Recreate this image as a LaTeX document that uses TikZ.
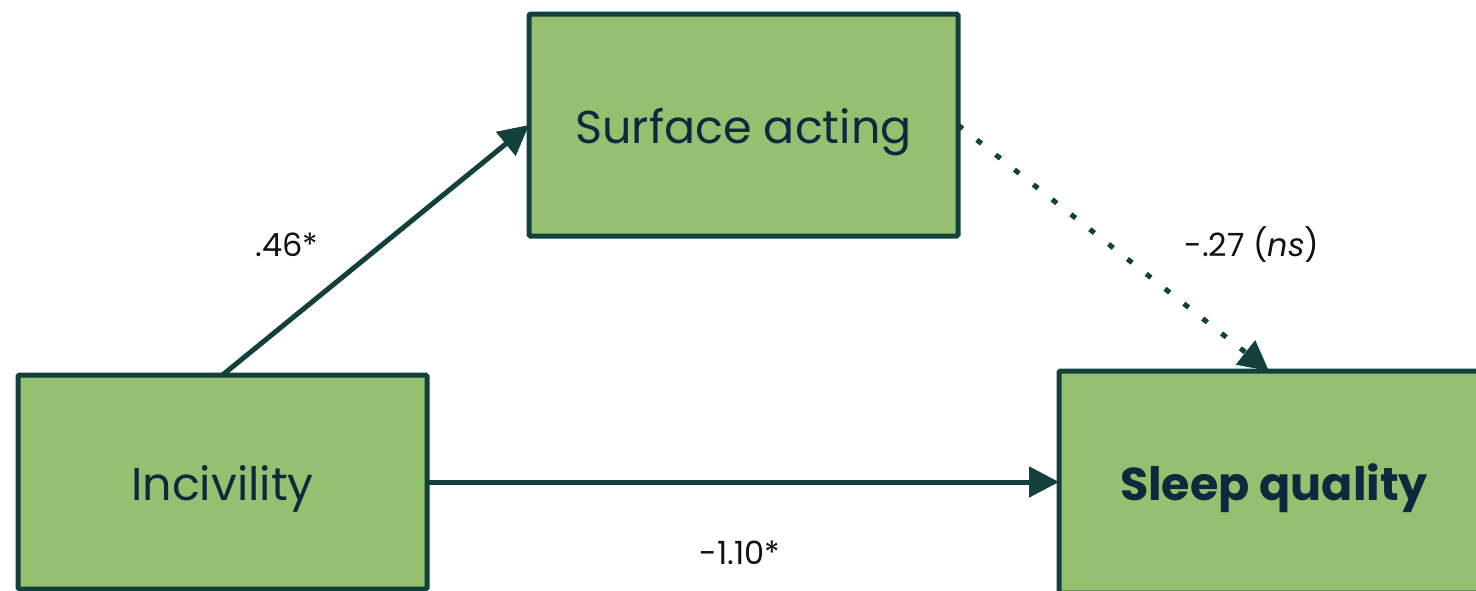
\documentclass[tikz,border=0pt]{standalone}
\usepackage{fontspec}
\setmainfont{Poppins}
\usetikzlibrary{arrows.meta}
\definecolor{boxfill}{RGB}{148,192,111}
\definecolor{boxline}{RGB}{18,64,58}
\definecolor{boxtext}{RGB}{14,40,62}
\definecolor{labtext}{RGB}{17,17,17}
\tikzset{
  varbox/.style={draw=boxline, fill=boxfill, line width=5pt, rounded corners=1.5pt,
    text=boxtext, font=\fontsize{46}{50}\selectfont, inner sep=0pt, outer sep=0pt,
    text height=36pt, text depth=0pt},
  path/.style={draw=boxline, line width=5pt, -{Triangle[length=30pt,width=30pt]}},
  coef/.style={text=labtext, font=\fontsize{32}{36}\selectfont, inner sep=0pt}
}
\begin{document}
\begin{tikzpicture}[x=1pt,y=-1pt]
\useasboundingbox (0,0) rectangle (1476,590);
\clip (0,0) rectangle (1476,590);
\node[varbox, minimum width=429pt, minimum height=222pt] (surf) at (743.5,125) {Surface acting};
\node[varbox, minimum width=409pt, minimum height=214pt] (inc) at (222.5,482) {Incivility};
\node[varbox, minimum width=430pt, minimum height=222pt] (sleep) at (1274,482) {\bfseries Sleep quality};
\draw[path] (inc.north) -- (surf.west);
\draw[path] (inc.east) -- (sleep.west);
\draw[path, dash pattern=on 6pt off 18pt] (surf.east) -- ([xshift=-5pt]sleep.north);
\node[coef] (l1) at (287,245) {.46*};
\node[coef] (l2) at (1252,245) {-.27 (\textit{ns})};
\node[coef] (l3) at (740,553) {-1.10*};
\end{tikzpicture}
\end{document}
